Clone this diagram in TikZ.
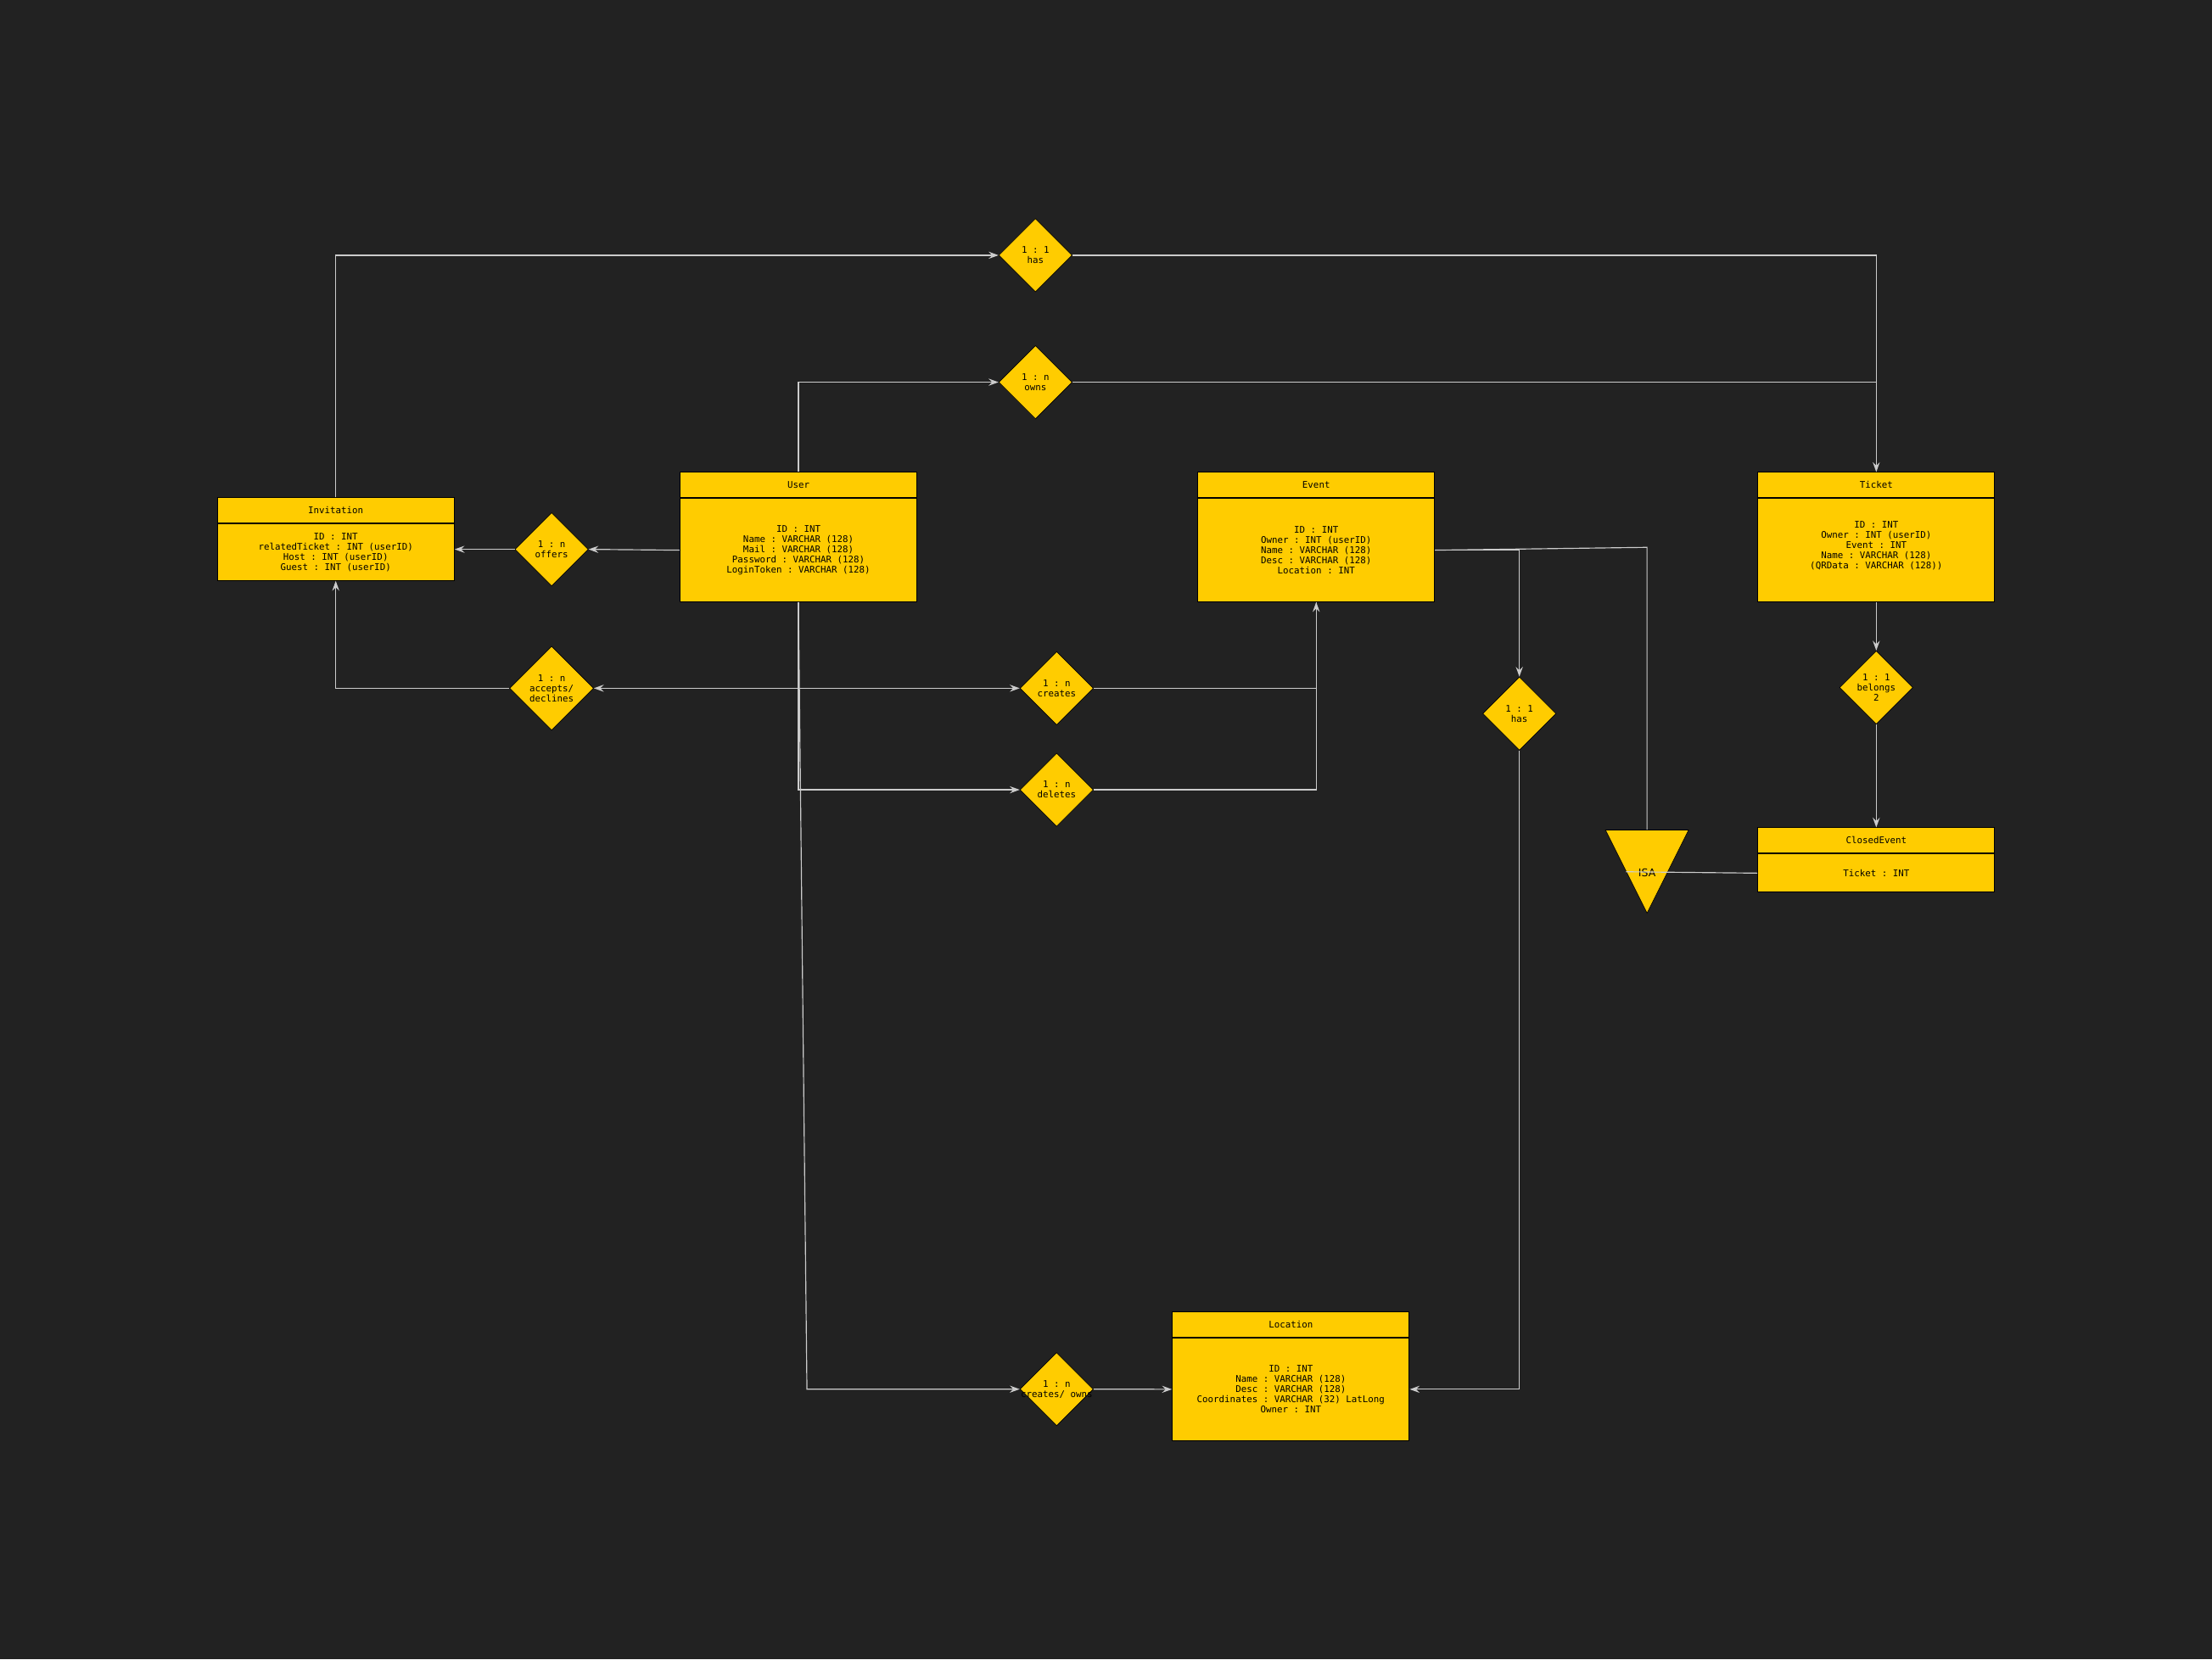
\documentclass[tikz,border=0pt]{standalone}
\usepackage{fontspec}
\setmonofont{DejaVu Sans Mono}
\setsansfont{DejaVu Sans}
\usepackage{tikz}
\usetikzlibrary{positioning,shapes.geometric,arrows.meta,calc}
\definecolor{bg}{HTML}{222222}
\definecolor{er}{HTML}{FFCC00}
\definecolor{wire}{HTML}{CCCCCC}
\tikzset{
  head/.style={draw=black,line width=0.6pt,fill=er,minimum width=168pt,minimum height=18pt,inner sep=0pt,
    font=\ttfamily\fontsize{6.5}{7.25}\selectfont},
  attrs/.style={head,align=center},
  rel/.style={diamond,draw=black,line width=0.4pt,fill=er,minimum width=52pt,minimum height=52pt,inner sep=0pt,
    align=center,font=\ttfamily\fontsize{6.5}{7.25}\selectfont},
  isatri/.style={isosceles triangle,shape border rotate=270,isosceles triangle stretches,minimum width=59pt,
    minimum height=59pt,inner sep=0pt,draw=black,line width=0.4pt,fill=er},
  link/.style={draw=wire,line width=0.7pt},
  arr/.style={link,-{Stealth[length=7pt,width=5pt,inset=2.5pt]}}
}
\begin{document}
\begin{tikzpicture}[x=1pt,y=-1pt]
\fill[bg] (0,0) rectangle (1568,1176.5);
\useasboundingbox (0,0) rectangle (1568,1176.5);

% entities
\node[head] (inv) at (238,362) {Invitation};
\node[attrs,minimum height=40pt,below=0pt of inv] (invb) {ID : INT\\relatedTicket : INT (userID)\\Host : INT (userID)\\Guest : INT (userID)};
\node[head] (user) at (566,344) {User};
\node[attrs,minimum height=73pt,below=0pt of user] (userb) {ID : INT\\Name : VARCHAR (128)\\Mail : VARCHAR (128)\\Password : VARCHAR (128)\\LoginToken : VARCHAR (128)};
\node[head] (event) at (933,344) {Event};
\node[attrs,minimum height=73pt,below=0pt of event] (eventb) {ID : INT\\Owner : INT (userID)\\Name : VARCHAR (128)\\Desc : VARCHAR (128)\\Location : INT};
\node[head] (ticket) at (1330,344) {Ticket};
\node[attrs,minimum height=73pt,below=0pt of ticket] (ticketb) {ID : INT\\Owner : INT (userID)\\Event : INT\\Name : VARCHAR (128)\\(QRData : VARCHAR (128))\\\mbox{}};
\node[head] (closed) at (1330,596) {ClosedEvent};
\node[attrs,minimum height=27pt,below=0pt of closed] (closedb) {Ticket : INT};
\node[head] (loc) at (915,939) {Location};
\node[attrs,minimum height=73pt,below=0pt of loc] (locb) {ID : INT\\Name : VARCHAR (128)\\Desc : VARCHAR (128)\\Coordinates : VARCHAR (32) LatLong\\Owner : INT};

% relations
\node[rel] (has) at (734,181) {1 : 1\\has};
\node[rel] (owns) at (734,271) {1 : n\\owns};
\node[rel] (offers) at (391,389.5) {1 : n\\offers};
\node[rel,minimum width=59.5pt,minimum height=59.5pt] (acc) at (391,488) {1 : n\\accepts/\\declines};
\node[rel] (creates) at (749,488) {1 : n\\creates};
\node[rel] (deletes) at (749,560) {1 : n\\deletes};
\node[rel] (hasloc) at (1077,506) {1 : 1\\has};
\node[rel] (belongs) at (1330,487.5) {1 : 1\\belongs\\2};
\node[rel] (cowns) at (749,985) {1 : n\\\makebox[0pt]{creates/ owns}};
\node[isatri,anchor=apex] (isa) at (1167.5,648) {};
\node[font=\sffamily\fontsize{7.5}{8}\selectfont] (isatext) at (1167.5,619) {ISA};

% connectors
\draw[arr] (inv.north) |- (has.west);
\draw[arr] (has.east) -| (ticket.north);
\draw[arr] (user.north) |- (owns.west);
\draw[link] (owns.east) -- (owns.east -| ticket.north);
\draw[arr] (userb.west) -- (offers.east);
\draw[arr] (offers.west) -- (offers.west -| invb.east);
\draw[arr] (userb.south) |- (acc.east);
\draw[arr] (acc.west) -| (invb.south);
\draw[arr] (userb.south) |- (creates.west);
\draw[arr] (userb.south) |- (deletes.west);
\draw[arr] (creates.east) -| (eventb.south);
\draw[link] (deletes.east) -| (eventb.south);
\draw[arr] (userb.south) -- ([xshift=6pt]userb.south |- cowns.west) -- (cowns.west);
\draw[arr] (cowns.east) -- (locb.west);
\draw[arr] (eventb.east) -| (hasloc.north);
\draw[arr] (hasloc.south) |- (locb.east);
\draw[link] (eventb.east) -- ([yshift=2pt]eventb.east -| isa.apex) -- (isa.apex |- isa.right corner);
\draw[link] ($(isa.right corner)!0.5!(isa.apex)$) -- (closedb.west);
\draw[arr] (ticketb.south) -- (belongs.north);
\draw[arr] (belongs.south) -- (closed.north);
\end{tikzpicture}
\end{document}
